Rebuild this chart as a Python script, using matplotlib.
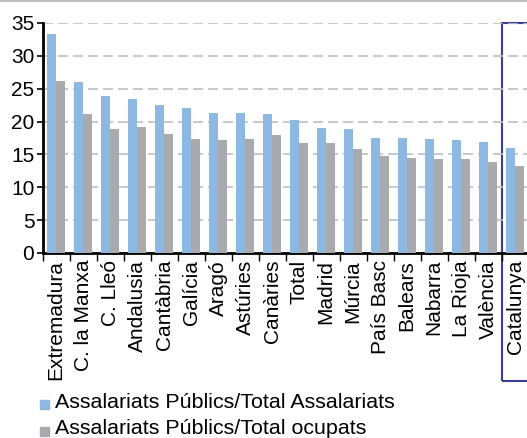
import matplotlib
matplotlib.use('Agg')
import matplotlib.pyplot as plt
import matplotlib.patches as patches
from matplotlib.lines import Line2D
import numpy as np

regions = ['Extremadura', 'C. la Manxa', 'C. Lleó', 'Andalusia', 'Cantàbria',
           'Galícia', 'Aragó', 'Astúries', 'Canàries', 'Total', 'Madrid',
           'Múrcia', 'País Basc', 'Balears', 'Nabarra', 'La Rioja',
           'València', 'Catalunya']
pub_assal = [33.3, 26.0, 23.9, 23.4, 22.5, 22.1, 21.3, 21.3, 21.15, 20.2,
             19.0, 18.9, 17.5, 17.5, 17.35, 17.2, 16.9, 16.0]
pub_ocup = [26.2, 21.15, 18.9, 19.2, 18.1, 17.35, 17.2, 17.35, 17.95, 16.7,
            16.7, 15.8, 14.8, 14.5, 14.3, 14.3, 13.85, 13.2]
legend_labels = ['Assalariats Públics/Total Assalariats',
                 'Assalariats Públics/Total ocupats']

blue = '#8DB8E2'
grey = '#A8AAAD'
plt.rcParams['font.family'] = ['Liberation Sans', 'DejaVu Sans']

W, H = 527, 438
fig = plt.figure(figsize=(W/100, H/100), dpi=100)
ax = fig.add_axes([42.7/W, 1-253/H, 486/W, 230/H])

x = np.arange(len(regions))
ax.bar(x-0.17, pub_assal, width=0.34, color=blue, zorder=3)
ax.bar(x+0.16, pub_ocup, width=0.32, color=grey, zorder=3)

ax.set_xlim(-0.5, len(regions)-0.5)
ax.set_ylim(0, 35)
ax.set_yticks(range(0, 36, 5))
ax.tick_params(axis='y', labelsize=15, length=4, width=1.2, pad=2)
ax.set_xticks(x)
ax.set_xticklabels(regions, rotation=90, fontsize=15)
ax.set_xticks(np.arange(-0.5, len(regions)), minor=True)
ax.tick_params(axis='x', which='major', length=0, pad=5)
ax.tick_params(axis='x', which='minor', length=6, width=1)
ax.grid(axis='y', color='#BFBFBF', linestyle=(0, (6, 3)), linewidth=1.2, zorder=0)
for s in ['top', 'right']:
    ax.spines[s].set_visible(False)
ax.spines['left'].set_linewidth(2)
ax.spines['bottom'].set_linewidth(2)

# highlight box round Catalunya
rect = patches.Rectangle((16.5, -0.557), 3.0, 1.557, fill=False,
                         edgecolor='#3B3F95', linewidth=1.5,
                         transform=ax.get_xaxis_transform(), clip_on=False)
ax.add_patch(rect)

# top border line
fig.add_artist(Line2D([0, 1], [1-1/H, 1-1/H], color='#BDBDBD', linewidth=1.5))

# legend
for i, (lab, col) in enumerate(zip(legend_labels, [blue, grey])):
    yc = 402 + i*27
    fig.add_artist(patches.Rectangle((40/W, 1-(yc+7)/H), 9/W, 9/H,
                                     color=col, transform=fig.transFigure))
    fig.text(55/W, 1-yc/H, lab, fontsize=15.4, va='center', ha='left')

fig.savefig('out.png', dpi=100)
